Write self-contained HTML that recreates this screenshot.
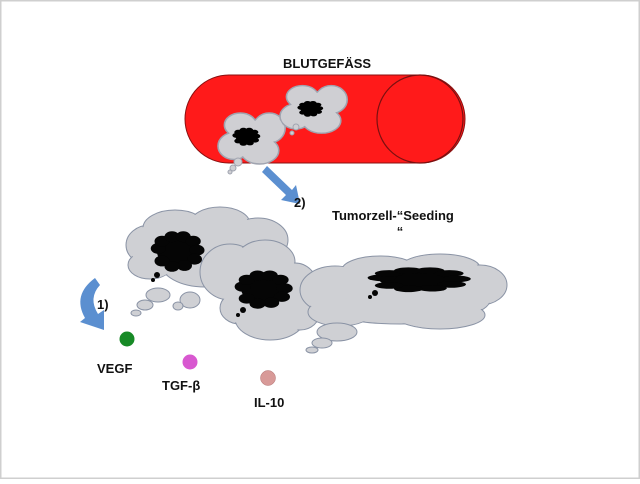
<!DOCTYPE html>
<html><head><style>
body{margin:0;background:#fff;width:640px;height:479px;overflow:hidden}
svg text{font-family:"Liberation Sans",sans-serif;font-weight:bold;fill:#111}
</style></head><body>
<svg width="640" height="479" viewBox="0 0 640 479">
<defs>
<g id="c1">
<ellipse cx="150" cy="245" rx="24" ry="20"/><ellipse cx="175" cy="228" rx="32" ry="18"/><ellipse cx="220" cy="224" rx="30" ry="17"/><ellipse cx="258" cy="240" rx="30" ry="22"/><ellipse cx="205" cy="262" rx="45" ry="25"/><ellipse cx="150" cy="265" rx="22" ry="14"/>
</g>
<g id="c2">
<ellipse cx="230" cy="272" rx="30" ry="28"/><ellipse cx="265" cy="262" rx="30" ry="22"/><ellipse cx="295" cy="285" rx="22" ry="22"/><ellipse cx="240" cy="308" rx="20" ry="16"/><ellipse cx="270" cy="318" rx="35" ry="22"/><ellipse cx="300" cy="312" rx="20" ry="18"/>
</g>
<g id="c3">
<ellipse cx="335" cy="290" rx="35" ry="24"/><ellipse cx="380" cy="270" rx="38" ry="14"/><ellipse cx="440" cy="268" rx="40" ry="14"/><ellipse cx="480" cy="285" rx="27" ry="20"/><ellipse cx="400" cy="300" rx="90" ry="24"/><ellipse cx="340" cy="312" rx="32" ry="14"/><ellipse cx="440" cy="315" rx="45" ry="14"/>
</g>
<g id="sc">
<ellipse cx="0" cy="0" rx="14" ry="12"/><ellipse cx="12" cy="-6" rx="10" ry="10"/><ellipse cx="-10" cy="6" rx="10" ry="9"/><ellipse cx="6" cy="9" rx="12" ry="9"/><ellipse cx="-6" cy="-8" rx="10" ry="8"/>
</g>
<g id="blob">
<ellipse cx="0" cy="0" rx="0.8" ry="0.75"/>
<circle cx="-0.75" cy="-0.2" r="0.3"/><circle cx="-0.6" cy="-0.6" r="0.3"/><circle cx="-0.2" cy="-0.85" r="0.3"/><circle cx="0.25" cy="-0.85" r="0.3"/><circle cx="0.65" cy="-0.6" r="0.3"/><circle cx="0.8" cy="-0.1" r="0.3"/><circle cx="0.7" cy="0.4" r="0.3"/><circle cx="0.3" cy="0.75" r="0.3"/><circle cx="-0.2" cy="0.8" r="0.3"/><circle cx="-0.6" cy="0.5" r="0.3"/>
</g>
</defs>
<rect x="0.5" y="0.5" width="639" height="478" fill="none" stroke="#cfcfcf" stroke-width="2"/>
<text x="327" y="68" font-size="13" text-anchor="middle">BLUTGEFÄSS</text>
<path d="M229 75 H421 A44 44 0 0 1 421 163 H229 A44 44 0 0 1 229 75Z" fill="#ff1a1a" stroke="#8a1010" stroke-width="1"/>
<ellipse cx="420" cy="119" rx="43" ry="44" fill="none" stroke="#7a1010" stroke-width="1.2"/>
<g fill="#cfcfd3" stroke="#a0a4b0" stroke-width="1"><use href="#sc" transform="translate(250,137) scale(1.6,1.5)"/><use href="#sc" transform="translate(312,108) scale(1.6,1.4)"/></g>
<g fill="#cfcfd3"><use href="#sc" transform="translate(250,137) scale(1.5,1.4)"/><use href="#sc" transform="translate(312,108) scale(1.5,1.3)"/></g>
<g fill="#000"><use href="#blob" transform="translate(246,137) scale(13,8)"/><use href="#blob" transform="translate(310,109) scale(12,7)"/></g>
<g fill="#cfcfd3" stroke="#a0a4b0"><circle cx="238" cy="162" r="4"/><circle cx="233" cy="168" r="3"/><circle cx="230" cy="172" r="2"/><circle cx="296" cy="127" r="3"/><circle cx="292" cy="133" r="2"/></g>
<path d="M262 172 L267 166 L292 190 L296 185 L300 204 L281 200 L286 195 Z" fill="#5b8fd0"/>
<text x="294" y="207" font-size="13">2)</text>
<text x="332" y="220" font-size="13">Tumorzell-“Seeding</text>
<text x="400" y="236" font-size="13" text-anchor="middle">“</text>
<g fill="#cfd0d4" stroke="#8a93a5" stroke-width="1"><use href="#c1"/></g><g fill="#cfd0d4"><use href="#c1" transform="translate(205,250) scale(0.97) translate(-205,-250)"/></g>
<g fill="#cfd0d4" stroke="#8a93a5" stroke-width="1"><use href="#c2"/></g><g fill="#cfd0d4"><use href="#c2" transform="translate(265,290) scale(0.97) translate(-265,-290)"/></g>
<g fill="#cfd0d4" stroke="#8a93a5" stroke-width="1"><use href="#c3"/></g><g fill="#cfd0d4"><use href="#c3" transform="translate(400,292) scale(0.98) translate(-400,-292)"/></g>
<g fill="#cfd0d4" stroke="#8a93a5"><ellipse cx="158" cy="295" rx="12" ry="7"/><ellipse cx="145" cy="305" rx="8" ry="5"/><ellipse cx="136" cy="313" rx="5" ry="3"/><ellipse cx="190" cy="300" rx="10" ry="8"/><ellipse cx="178" cy="306" rx="5" ry="4"/><ellipse cx="337" cy="332" rx="20" ry="9"/><ellipse cx="322" cy="343" rx="10" ry="5"/><ellipse cx="312" cy="350" rx="6" ry="3"/></g>
<g fill="#050505"><use href="#blob" transform="translate(177,252) scale(25,18)"/><use href="#blob" transform="translate(263,290) scale(27,17)"/><use href="#blob" transform="translate(418,280) scale(48,11)"/></g>
<g fill="#050505"><circle cx="157" cy="275" r="3"/><circle cx="153" cy="280" r="2"/><circle cx="243" cy="310" r="3"/><circle cx="238" cy="315" r="2"/><circle cx="375" cy="293" r="3"/><circle cx="370" cy="297" r="2"/></g>
<path d="M95 278 Q72 295 85 318 L80 322 L104 330 L104 310 L98 314 Q88 298 100 285 Z" fill="#5b8fd0"/>
<text x="97" y="309" font-size="13">1)</text>
<circle cx="127" cy="339" r="7.5" fill="#178a26"/>
<circle cx="190" cy="362" r="7.5" fill="#d858d0"/>
<circle cx="268" cy="378" r="7.5" fill="#d89a98" stroke="#b07070" stroke-width="0.5"/>
<text x="97" y="373" font-size="13">VEGF</text>
<text x="162" y="390" font-size="13">TGF-β</text>
<text x="254" y="407" font-size="13">IL-10</text>
</svg>
</body></html>
